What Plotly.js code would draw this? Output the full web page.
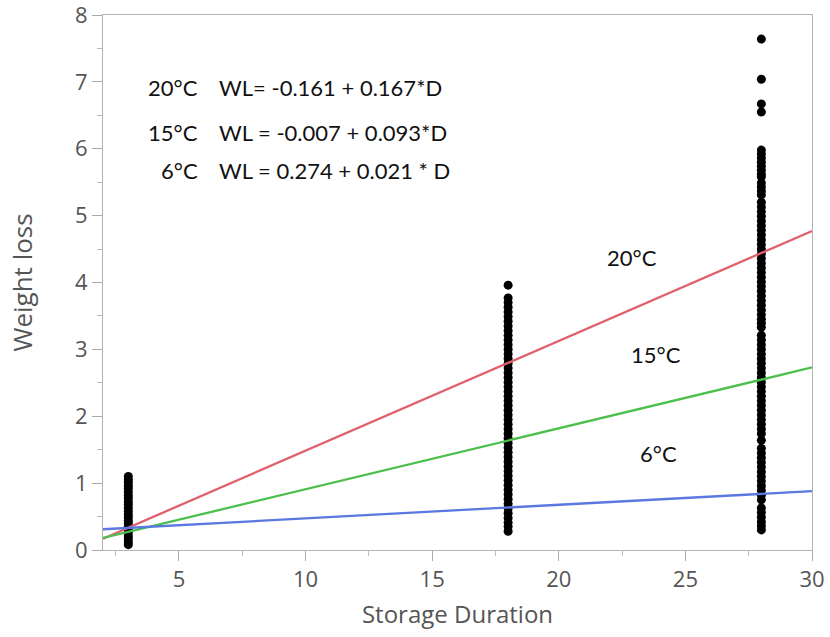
<!DOCTYPE html>
<html>
<head>
<meta charset="utf-8">
<script src="https://cdn.plot.ly/plotly-3.0.1.min.js"></script>
<style>html,body{margin:0;padding:0;background:#fff;}#chart{width:830px;height:637px;}</style>
</head>
<body>
<div id="chart"></div>
<script>
// Observed weight loss at each storage duration
const dur3 = 3;
const wl3 = [0.08,0.12,0.17,0.21,0.26,0.30,0.35,0.40,0.44,0.49,0.53,0.58,0.63,0.68,0.72,0.77,0.82,0.87,0.92,0.96,1.01,1.05,1.10];
const dur18 = 18;
const wl18 = [3.96,3.77,3.70,3.63,3.56,3.49,3.42,3.35,3.28,3.21,3.14,3.07,3.00,2.93,2.86,2.79,2.72,2.65,2.58,2.51,2.44,2.37,2.30,2.23,2.16,2.09,2.02,1.95,1.88,1.81,1.74,1.67,1.60,1.53,1.46,1.39,1.32,1.25,1.18,1.11,1.04,0.97,0.90,0.83,0.76,0.69,0.62,0.55,0.48,0.41,0.35,0.28];
const dur28 = 28;
const wl28 = [7.64,7.04,6.67,6.55,5.98,5.92,5.86,5.80,5.74,5.68,5.62,5.58,5.49,5.43,5.37,5.31,5.20,5.13,5.06,4.99,4.92,4.85,4.78,4.71,4.64,4.57,4.50,4.43,4.36,4.29,4.22,4.15,4.08,4.01,3.94,3.87,3.80,3.73,3.66,3.59,3.52,3.45,3.39,3.33,3.21,3.14,3.07,3.00,2.93,2.86,2.79,2.72,2.65,2.58,2.51,2.44,2.37,2.30,2.23,2.16,2.09,2.02,1.95,1.88,1.81,1.74,1.64,1.52,1.45,1.38,1.31,1.24,1.17,1.10,1.03,0.96,0.89,0.82,0.75,0.63,0.56,0.49,0.42,0.36,0.30];

// Fitted regression lines (endpoints)
const lineDur = [2, 30];
const fit20 = [0.17, 4.77];
const fit15 = [0.18, 2.73];
const fit6 = [0.31, 0.88];

// Legend / equation text
const tempLabels = ["20°C", "15°C", "6°C"];
const equations = ["WL= -0.161 + 0.167*D", "WL = -0.007 + 0.093*D", "WL = 0.274 + 0.021 * D"];
const xTicks = [5, 10, 15, 20, 25, 30];
const yTicks = [0, 1, 2, 3, 4, 5, 6, 7, 8];

const xs = [].concat(wl3.map(()=>dur3), wl18.map(()=>dur18), wl28.map(()=>dur28));
const ys = [].concat(wl3, wl18, wl28);

const data = [
  {x: xs, y: ys, mode: 'markers', marker: {color: '#000', size: 9}, cliponaxis: false, hoverinfo: 'skip'},
  {x: lineDur, y: fit20, mode: 'lines', line: {color: '#e0606c', width: 2.3}, hoverinfo: 'skip'},
  {x: lineDur, y: fit15, mode: 'lines', line: {color: '#4cbf4c', width: 2.3}, hoverinfo: 'skip'},
  {x: lineDur, y: fit6, mode: 'lines', line: {color: '#5a78e0', width: 2.3}, hoverinfo: 'skip'}
];

const eqFont = {family: 'Lato, "Open Sans", sans-serif', size: 22, color: '#111'};
const annY = [6.92, 6.24, 5.67];
const annotations = [];
for (let i = 0; i < 3; i++) {
  annotations.push({x: 5.85, y: annY[i], xref: 'x', yref: 'y', text: tempLabels[i], showarrow: false, xanchor: 'right', yanchor: 'middle', font: eqFont});
  annotations.push({x: 6.5, y: annY[i], xref: 'x', yref: 'y', text: equations[i], showarrow: false, xanchor: 'left', yanchor: 'middle', font: eqFont});
}
const lblPos = [[22.9, 4.38], [23.85, 2.92], [23.95, 1.45]];
for (let i = 0; i < 3; i++) {
  annotations.push({x: lblPos[i][0], y: lblPos[i][1], xref: 'x', yref: 'y', text: tempLabels[i], showarrow: false, xanchor: 'center', yanchor: 'middle', font: eqFont});
}

const tickFont = {family: '"Open Sans", "Noto Sans", sans-serif', size: 22, color: '#555'};
const layout = {
  width: 830, height: 637,
  margin: {l: 103, r: 18, t: 15, b: 87},
  paper_bgcolor: '#fff', plot_bgcolor: '#fff',
  showlegend: false,
  xaxis: {
    range: [2, 30], tickvals: xTicks, ticks: 'outside', ticklen: 10, tickcolor: '#aaa',
    showgrid: false, zeroline: false, showline: true, linecolor: '#b4b4b4', linewidth: 1, mirror: true,
    tickfont: tickFont, ticklabeloverflow: 'allow',
    minor: {dtick: 2.5, tick0: 0, ticks: 'outside', ticklen: 5, tickcolor: '#bbb', showgrid: false},
    title: {text: 'Storage Duration', font: {family: '"Open Sans", "Noto Sans", sans-serif', size: 24, color: '#555'}, standoff: 13}
  },
  yaxis: {
    range: [0, 8], tickvals: yTicks, ticks: 'outside', ticklen: 10, tickcolor: '#aaa',
    showgrid: false, zeroline: false, showline: true, linecolor: '#b4b4b4', linewidth: 1, mirror: true,
    tickfont: tickFont, ticklabeloverflow: 'allow',
    minor: {dtick: 0.5, ticks: 'outside', ticklen: 5, tickcolor: '#bbb', showgrid: false},
    title: {text: 'Weight loss', font: {family: '"Open Sans", "Noto Sans", sans-serif', size: 26, color: '#555'}, standoff: 34}
  },
  annotations: annotations
};
Plotly.newPlot('chart', data, layout, {displayModeBar: false, staticPlot: true});
</script>
</body>
</html>
